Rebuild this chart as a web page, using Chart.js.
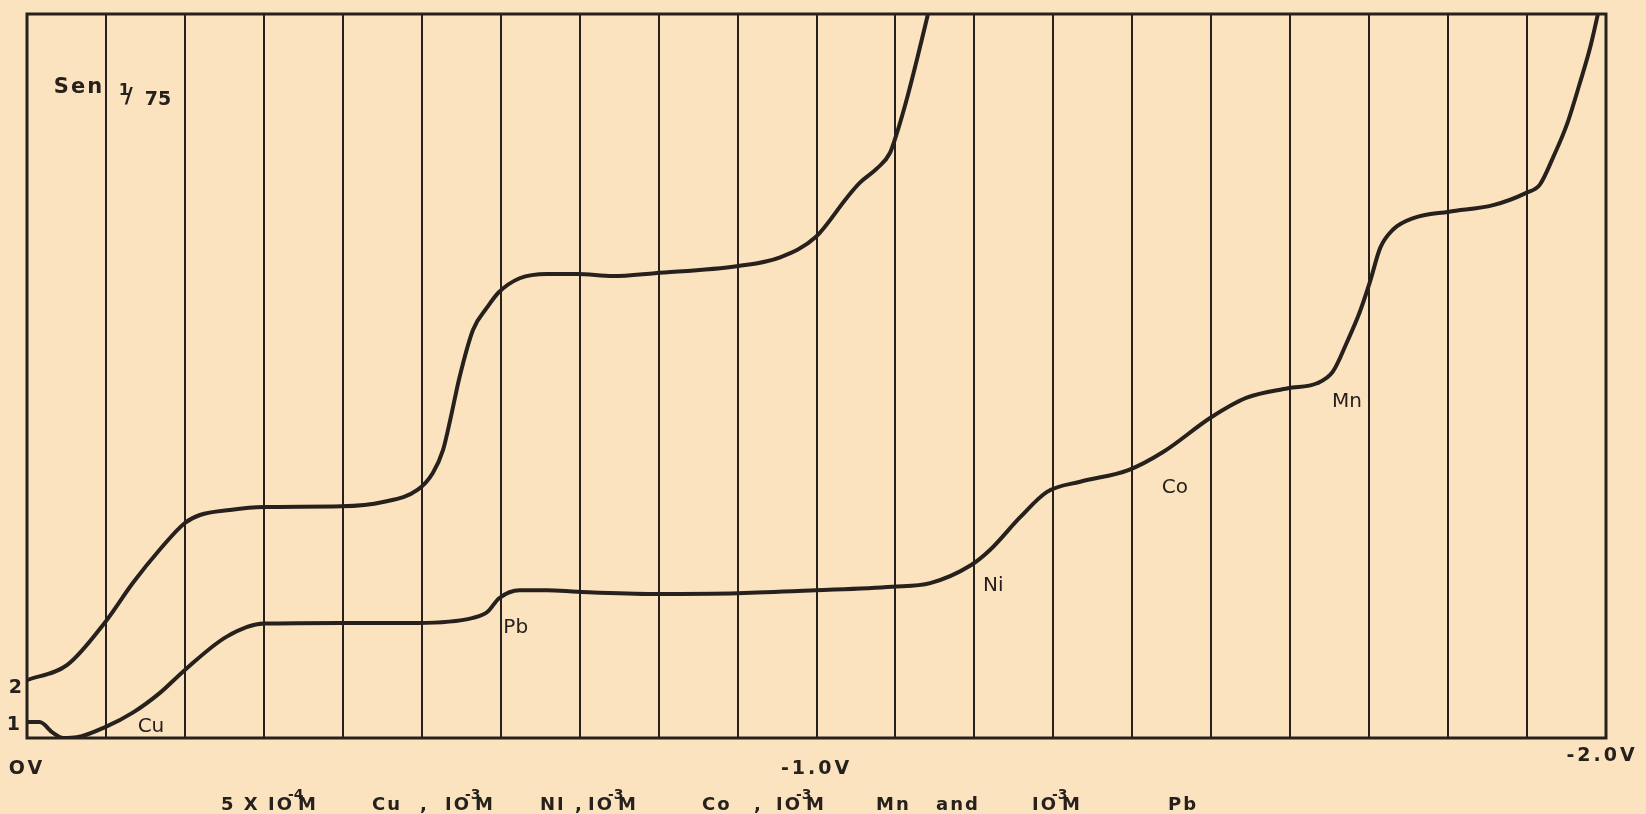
<!DOCTYPE html>
<html>
<head>
<meta charset="utf-8">
<title>Polarogram</title>
<script src="https://cdn.jsdelivr.net/npm/chart.js@4.4.0/dist/chart.umd.min.js"></script>
<style>
  html, body { margin: 0; padding: 0; overflow: hidden; background: #fce3bf; }
  #wrap { width: 1646px; height: 814px; position: relative; }
</style>
</head>
<body>
<div id="wrap"><canvas id="polarogram"></canvas></div>
<script>
// Curve 1 (lower) - potential in V, current in chart units (0-100)
const potentialLower = [0, -0.016, -0.033, -0.046, -0.063, -0.099, -0.134, -0.168, -0.200, -0.253,
  -0.300, -0.398, -0.495, -0.565, -0.583, -0.598, -0.624, -0.659, -0.697, -0.795,
  -0.901, -0.999, -1.096, -1.144, -1.196, -1.220, -1.258, -1.292, -1.334, -1.395,
  -1.439, -1.500, -1.545, -1.597, -1.634, -1.654, -1.672, -1.688, -1.701, -1.714,
  -1.730, -1.756, -1.801, -1.857, -1.899, -1.916, -1.933, -1.951, -1.967, -1.980, -1.990];
const currentLower = [2.2, 2.2, 0.7, 0.0, 0.1, 1.5, 3.5, 6.2, 9.4, 14.0,
  15.8, 15.9, 15.9, 16.6, 17.4, 19.3, 20.4, 20.4, 20.2, 19.9,
  20.0, 20.4, 20.9, 21.4, 23.9, 26.0, 30.5, 34.0, 35.4, 37.0,
  39.5, 44.3, 47.0, 48.3, 49.0, 50.6, 54.7, 58.8, 63.0, 67.7,
  70.2, 71.8, 72.7, 73.6, 75.3, 76.4, 80.2, 84.9, 90.5, 95.4, 100.1];

// Curve 2 (upper)
const potentialUpper = [0, -0.051, -0.099, -0.134, -0.168, -0.200, -0.219, -0.257, -0.300, -0.398,
  -0.451, -0.495, -0.514, -0.527, -0.536, -0.548, -0.565, -0.583, -0.597, -0.624,
  -0.659, -0.697, -0.742, -0.795, -0.901, -0.954, -0.999, -1.039, -1.055, -1.077,
  -1.093, -1.102, -1.115, -1.127, -1.141];
const currentUpper = [8.0, 10.1, 16.0, 21.4, 26.0, 29.7, 30.8, 31.5, 31.9, 32.0,
  32.6, 34.3, 36.6, 39.8, 43.9, 49.9, 56.4, 59.5, 61.5, 63.5,
  64.1, 64.1, 63.8, 64.2, 65.2, 66.4, 69.2, 74.7, 76.7, 78.7,
  80.8, 83.6, 88.5, 93.6, 99.9];

// labelled axis potentials (the -2.0 V one is lettered a little higher on the chart)
const labelledTicks = [0, -1.0];
const endPotential = -2.0;

// wave labels, placed in data coordinates
const waveNames = ["Cu", "Pb", "Ni", "Co", "Mn"];
const wavePotentials = [-0.157, -0.619, -1.224, -1.454, -1.672];
const waveCurrents = [1.5, 15.2, 21.0, 34.5, 46.4];

const INK = "#26211c";
const PAPER = "#fce3bf";

function toPoints(xs, ys) {
  return xs.map((x, i) => ({ x: x, y: ys[i] }));
}

const paperPlugin = {
  id: "paper",
  beforeDraw(chart) {
    const c = chart.ctx;
    c.save();
    c.fillStyle = PAPER;
    c.fillRect(0, 0, chart.width, chart.height);
    c.restore();
    // hand lettering is widely spaced
    c.letterSpacing = "3px";
  }
};

const notesPlugin = {
  id: "notes",
  afterDraw(chart) {
    const c = chart.ctx;
    const xs = chart.scales.x, ys = chart.scales.y;
    const a = chart.chartArea;
    c.save();
    c.fillStyle = INK;
    c.strokeStyle = INK;

    // frame
    c.lineWidth = 3;
    c.strokeRect(a.left, a.top, a.right - a.left, a.bottom - a.top);

    // end of the potential axis
    c.letterSpacing = "3px";
    c.font = "bold 19px 'DejaVu Sans'";
    c.textAlign = "center";
    c.textBaseline = "top";
    c.fillText(endPotential.toFixed(1) + "V", xs.getPixelForValue(endPotential) - 4, a.bottom + 9);

    // curve numbers at the left edge
    c.letterSpacing = "0px";
    c.textAlign = "right";
    c.textBaseline = "middle";
    c.fillText("2", a.left - 5, ys.getPixelForValue(currentUpper[0]) + 8);
    c.fillText("1", a.left - 7, ys.getPixelForValue(currentLower[0]) + 3);

    // wave labels
    c.font = "20px 'DejaVu Sans'";
    c.textAlign = "center";
    waveNames.forEach((name, i) => {
      c.fillText(name, xs.getPixelForValue(wavePotentials[i]), ys.getPixelForValue(waveCurrents[i]));
    });

    // sensitivity note
    const sx = xs.getPixelForValue(-0.034), sy = ys.getPixelForValue(89.1);
    c.textAlign = "left";
    c.textBaseline = "alphabetic";
    c.letterSpacing = "2px";
    c.font = "bold 21px 'DejaVu Sans'";
    c.fillText("Sen", sx, sy);
    c.letterSpacing = "0px";
    c.font = "bold 16px 'DejaVu Sans'";
    c.fillText("1", sx + 65, sy + 2);
    c.font = "bold 22px 'DejaVu Sans'";
    c.fillText("/", sx + 71, sy + 10);
    c.font = "bold 19px 'DejaVu Sans'";
    c.fillText("75", sx + 91, sy + 12);

    // caption
    const base = 810;
    const normal = "bold 18px 'DejaVu Sans'";
    const small = "bold 14px 'DejaVu Sans'";
    function conc(x, exp) {
      c.font = normal;
      c.letterSpacing = "2px";
      c.fillText("IO", x, base);
      const w = c.measureText("IO").width;
      c.font = small;
      c.letterSpacing = "0px";
      c.fillText(exp, x + w - 6, base - 11);
      c.font = normal;
      c.fillText("M", x + w + 4, base);
    }
    function word(x, t) {
      c.font = normal;
      c.letterSpacing = "2px";
      c.fillText(t, x, base);
    }
    word(221, "5 X");
    conc(268, "-4");
    word(372, "Cu");
    word(420, ",");
    conc(445, "-3");
    word(540, "NI");
    word(575, ",");
    conc(588, "-3");
    word(702, "Co");
    word(754, ",");
    conc(776, "-3");
    word(876, "Mn");
    word(936, "and");
    conc(1032, "-3");
    word(1168, "Pb");
    c.restore();
  }
};

new Chart(document.getElementById("polarogram"), {
  type: "line",
  data: {
    datasets: [
      {
        label: "1",
        data: toPoints(potentialLower, currentLower),
        borderColor: INK,
        borderWidth: 4,
        pointRadius: 0,
        cubicInterpolationMode: "monotone",
        fill: false
      },
      {
        label: "2",
        data: toPoints(potentialUpper, currentUpper),
        borderColor: INK,
        borderWidth: 4,
        pointRadius: 0,
        cubicInterpolationMode: "monotone",
        fill: false
      }
    ]
  },
  options: {
    responsive: true,
    maintainAspectRatio: false,
    animation: false,
    layout: { padding: { left: 27, right: 40, top: 14, bottom: 0 } },
    plugins: {
      legend: { display: false },
      tooltip: { enabled: false }
    },
    scales: {
      x: {
        type: "linear",
        min: -2.0,
        max: 0,
        reverse: true,
        border: { display: false },
        grid: { color: INK, lineWidth: 2, drawTicks: false },
        afterFit(scale) {
          scale.height = 76;
          scale.paddingLeft = 0;
          scale.paddingRight = 0;
        },
        ticks: {
          stepSize: 0.1,
          autoSkip: false,
          maxRotation: 0,
          padding: 20,
          color: INK,
          font: { family: "DejaVu Sans", size: 19, weight: "bold" },
          callback(value) {
            const tenth = Math.round(value * 10);
            const hit = labelledTicks.find(t => Math.round(t * 10) === tenth);
            if (hit === undefined) return "";
            return hit === 0 ? "OV" : hit.toFixed(1) + "V";
          }
        }
      },
      y: {
        type: "linear",
        min: 0,
        max: 100,
        display: false
      }
    }
  },
  plugins: [paperPlugin, notesPlugin]
});
</script>
</body>
</html>
